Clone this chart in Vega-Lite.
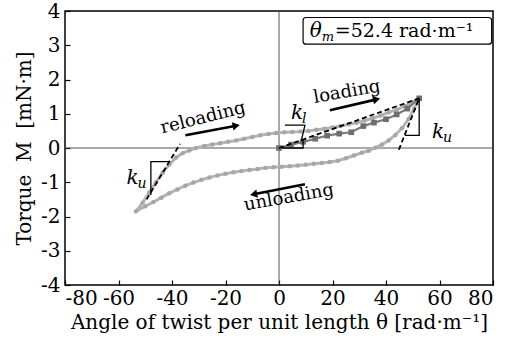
{
  "$schema": "https://vega.github.io/schema/vega-lite/v6.json",
  "width": 428,
  "height": 274,
  "autosize": {"type": "none"},
  "padding": {"left": 65, "top": 11, "right": 13, "bottom": 52},
  "background": "white",
  "view": {"stroke": "black", "strokeWidth": 1.5},
  "config": {
    "font": "DejaVu Serif",
    "axis": {
      "grid": false, "domain": false, "tickColor": "black", "tickSize": -5, "tickWidth": 1.2,
      "labelFont": "DejaVu Serif", "labelFontSize": 20, "labelColor": "black", "labelOverlap": false,
      "titleFont": "DejaVu Serif", "titleFontSize": 20, "titleFontWeight": "normal", "titleColor": "black",
      "labelExpr": "replace(datum.label, '−', '-')"
    }
  },
  "datasets": {
    "loop": [
      {"x": 52.4, "y": 1.45, "o": 1}, {"x": 50.5, "y": 1.15, "o": 2}, {"x": 48.5, "y": 0.85, "o": 3},
      {"x": 46, "y": 0.58, "o": 4}, {"x": 43.5, "y": 0.38, "o": 5}, {"x": 41, "y": 0.22, "o": 6},
      {"x": 38.5, "y": 0.1, "o": 7}, {"x": 36, "y": 0.01, "o": 8}, {"x": 33.5, "y": -0.08, "o": 9},
      {"x": 31, "y": -0.14, "o": 10}, {"x": 28, "y": -0.22, "o": 11}, {"x": 25, "y": -0.3, "o": 12},
      {"x": 22, "y": -0.37, "o": 13}, {"x": 19, "y": -0.41, "o": 14}, {"x": 16, "y": -0.44, "o": 15},
      {"x": 13, "y": -0.46, "o": 16}, {"x": 10, "y": -0.49, "o": 17}, {"x": 7, "y": -0.51, "o": 18},
      {"x": 4, "y": -0.53, "o": 19}, {"x": 1, "y": -0.55, "o": 20}, {"x": -2, "y": -0.56, "o": 21},
      {"x": -5, "y": -0.58, "o": 22}, {"x": -8, "y": -0.61, "o": 23}, {"x": -11, "y": -0.64, "o": 24},
      {"x": -14, "y": -0.67, "o": 25}, {"x": -17, "y": -0.71, "o": 26}, {"x": -20, "y": -0.75, "o": 27},
      {"x": -23, "y": -0.8, "o": 28}, {"x": -26, "y": -0.86, "o": 29}, {"x": -29, "y": -0.93, "o": 30},
      {"x": -32, "y": -1.01, "o": 31}, {"x": -35, "y": -1.1, "o": 32}, {"x": -38, "y": -1.21, "o": 33},
      {"x": -41, "y": -1.32, "o": 34}, {"x": -44, "y": -1.45, "o": 35}, {"x": -47, "y": -1.58, "o": 36},
      {"x": -50, "y": -1.7, "o": 37}, {"x": -53.5, "y": -1.85, "o": 38},
      {"x": -51, "y": -1.6, "o": 39}, {"x": -48.5, "y": -1.3, "o": 40}, {"x": -46, "y": -1.0, "o": 41},
      {"x": -43.5, "y": -0.72, "o": 42}, {"x": -41, "y": -0.48, "o": 43}, {"x": -38.5, "y": -0.28, "o": 44},
      {"x": -36, "y": -0.15, "o": 45}, {"x": -33.5, "y": -0.07, "o": 46}, {"x": -31, "y": 0.0, "o": 47},
      {"x": -28, "y": 0.06, "o": 48}, {"x": -25, "y": 0.1, "o": 49}, {"x": -22, "y": 0.14, "o": 50},
      {"x": -19, "y": 0.18, "o": 51}, {"x": -16, "y": 0.22, "o": 52}, {"x": -13, "y": 0.27, "o": 53},
      {"x": -10, "y": 0.32, "o": 54}, {"x": -7, "y": 0.37, "o": 55}, {"x": -4, "y": 0.41, "o": 56},
      {"x": -1, "y": 0.44, "o": 57}, {"x": 2, "y": 0.46, "o": 58}, {"x": 5, "y": 0.47, "o": 59},
      {"x": 8, "y": 0.48, "o": 60}, {"x": 11, "y": 0.5, "o": 61}, {"x": 14, "y": 0.53, "o": 62},
      {"x": 17, "y": 0.56, "o": 63}, {"x": 20, "y": 0.6, "o": 64}, {"x": 23, "y": 0.64, "o": 65},
      {"x": 26, "y": 0.69, "o": 66}, {"x": 29, "y": 0.74, "o": 67}, {"x": 32, "y": 0.8, "o": 68},
      {"x": 35, "y": 0.87, "o": 69}, {"x": 38, "y": 0.95, "o": 70}, {"x": 41, "y": 1.04, "o": 71},
      {"x": 44, "y": 1.12, "o": 72}, {"x": 47, "y": 1.22, "o": 73}, {"x": 50, "y": 1.34, "o": 74},
      {"x": 52.4, "y": 1.45, "o": 75}
    ],
    "loading": [
      {"x": 0, "y": 0}, {"x": 4.5, "y": 0.1}, {"x": 9, "y": 0.18}, {"x": 13.5, "y": 0.27},
      {"x": 18, "y": 0.36}, {"x": 22.5, "y": 0.42}, {"x": 27, "y": 0.46}, {"x": 31.5, "y": 0.64},
      {"x": 35.5, "y": 0.74}, {"x": 40, "y": 0.84}, {"x": 44, "y": 0.98}, {"x": 48, "y": 1.15},
      {"x": 52.4, "y": 1.45}
    ],
    "dashed": [
      {"id": "kl", "x": 0, "y": 0}, {"id": "kl", "x": 52.4, "y": 1.45},
      {"id": "kur", "x": 52.4, "y": 1.45}, {"id": "kur", "x": 44.8, "y": -0.05},
      {"id": "kul", "x": -49.5, "y": -1.5}, {"id": "kul", "x": -37, "y": 0.12}
    ],
    "solid": [
      {"id": "tl", "o": 1, "x": 1, "y": 0}, {"id": "tl", "o": 2, "x": 9, "y": 0}, {"id": "tl", "o": 3, "x": 9, "y": 0.25},
      {"id": "ll", "o": 1, "x": 2.2, "y": 0.67}, {"id": "ll", "o": 2, "x": 9.7, "y": 0.67}, {"id": "ll", "o": 3, "x": 8.3, "y": 0.2},
      {"id": "tr", "o": 1, "x": 52.4, "y": 1.45}, {"id": "tr", "o": 2, "x": 52.4, "y": 0.37}, {"id": "tr", "o": 3, "x": 47, "y": 0.37},
      {"id": "tle", "o": 1, "x": -47.9, "y": -1.37}, {"id": "tle", "o": 2, "x": -47.9, "y": -0.4}, {"id": "tle", "o": 3, "x": -41, "y": -0.4}
    ],
    "arrows": [
      {"id": "reload", "o": 1, "x": -35, "y": 0.37}, {"id": "reload", "o": 2, "x": -16, "y": 0.65},
      {"id": "load", "o": 1, "x": 19, "y": 1.1}, {"id": "load", "o": 2, "x": 36.5, "y": 1.42},
      {"id": "unload", "o": 1, "x": 9.7, "y": -1.06}, {"id": "unload", "o": 2, "x": -9.5, "y": -1.35}
    ],
    "heads": [
      {"id": "reload", "x": -16, "y": 0.65},
      {"id": "load", "x": 36.5, "y": 1.42},
      {"id": "unload", "x": -9.5, "y": -1.35}
    ],
    "words": [
      {"id": "reload", "t": "reloading", "x": -28.4, "y": 0.87},
      {"id": "load", "t": "loading", "x": 25.4, "y": 1.63},
      {"id": "unload", "t": "unloading", "x": 3.7, "y": -1.45}
    ],
    "ks": [
      {"k": "k", "s": "l", "x": 4.5, "y": 0.85},
      {"k": "k", "s": "u", "x": 57.2, "y": 0.3},
      {"k": "k", "s": "u", "x": -57, "y": -1.05}
    ],
    "box": [{"x": 9, "x2": 79.5, "y": 3.81, "y2": 3.03}],
    "boxtext": [{"x": 11.5, "y": 3.42}]
  },
  "encoding": {
    "x": {"field": "x", "type": "quantitative", "scale": {"domain": [-80, 80]},
      "axis": {"values": [-80, -60, -40, -20, 0, 20, 40, 60, 80], "tickCount": 30, "format": "d", "labelOverlap": false, "labelPadding": 8, "title": "Angle of twist per unit length  θ [rad·m⁻¹]", "titlePadding": 4}},
    "y": {"field": "y", "type": "quantitative", "scale": {"domain": [-4, 4]},
      "axis": {"values": [-4, -3, -2, -1, 0, 1, 2, 3, 4], "tickCount": 30, "format": "d", "labelOverlap": false, "labelPadding": 10, "title": "Torque\u00a0\u00a0M\u00a0\u00a0[mN·m]", "titlePadding": 6}}
  },
  "layer": [
    {"data": {"values": [{"x": 0}]}, "mark": {"type": "rule", "color": "#444", "strokeWidth": 0.9},
      "encoding": {"y": null}},
    {"data": {"values": [{"y": 0}]}, "mark": {"type": "rule", "color": "#444", "strokeWidth": 0.9},
      "encoding": {"x": null}},
    {
      "data": {"name": "loop"},
      "mark": {"type": "line", "color": "#b4b4b4", "strokeWidth": 3, "point": {"filled": true, "size": 20, "color": "#a6a6a6"}},
      "encoding": {"order": {"field": "o"}}
    },
    {
      "data": {"name": "loading"},
      "mark": {"type": "line", "color": "#7a7a7a", "strokeWidth": 2.2, "point": {"filled": true, "shape": "square", "size": 32, "color": "#6e6e6e"}}
    },
    {
      "data": {"name": "dashed"},
      "mark": {"type": "line", "color": "black", "strokeWidth": 1.8, "strokeDash": [5, 3]},
      "encoding": {"detail": {"field": "id"}}
    },
    {
      "data": {"name": "solid"},
      "mark": {"type": "line", "color": "black", "strokeWidth": 1.3},
      "encoding": {"detail": {"field": "id"}, "order": {"field": "o"}}
    },
    {
      "data": {"name": "arrows"},
      "mark": {"type": "line", "color": "black", "strokeWidth": 2.6},
      "encoding": {"detail": {"field": "id"}, "order": {"field": "o"}}
    },
    {
      "data": {"name": "heads"}, "transform": [{"filter": "datum.id === 'reload'"}],
      "mark": {"type": "point", "shape": "triangle-right", "filled": true, "color": "black", "size": 70, "opacity": 1, "angle": -11}
    },
    {
      "data": {"name": "heads"}, "transform": [{"filter": "datum.id === 'load'"}],
      "mark": {"type": "point", "shape": "triangle-right", "filled": true, "color": "black", "size": 70, "opacity": 1, "angle": -13}
    },
    {
      "data": {"name": "heads"}, "transform": [{"filter": "datum.id === 'unload'"}],
      "mark": {"type": "point", "shape": "triangle-right", "filled": true, "color": "black", "size": 70, "opacity": 1, "angle": 169}
    },
    {
      "data": {"name": "words"}, "transform": [{"filter": "datum.id === 'reload'"}],
      "mark": {"type": "text", "fontSize": 18, "angle": -14, "color": "black"},
      "encoding": {"text": {"field": "t"}}
    },
    {
      "data": {"name": "words"}, "transform": [{"filter": "datum.id === 'load'"}],
      "mark": {"type": "text", "fontSize": 18, "angle": -10, "color": "black"},
      "encoding": {"text": {"field": "t"}}
    },
    {
      "data": {"name": "words"}, "transform": [{"filter": "datum.id === 'unload'"}],
      "mark": {"type": "text", "fontSize": 18, "angle": -10, "color": "black"},
      "encoding": {"text": {"field": "t"}}
    },
    {
      "data": {"name": "ks"},
      "mark": {"type": "text", "fontSize": 20, "fontStyle": "italic", "align": "left", "baseline": "alphabetic", "color": "black"},
      "encoding": {"text": {"field": "k"}}
    },
    {
      "data": {"name": "ks"},
      "mark": {"type": "text", "fontSize": 14, "fontStyle": "italic", "align": "left", "baseline": "alphabetic", "dx": 11, "dy": 4, "color": "black"},
      "encoding": {"text": {"field": "s"}}
    },
    {
      "data": {"name": "box"},
      "mark": {"type": "rect", "fill": "white", "stroke": "black", "strokeWidth": 1.2, "cornerRadius": 3},
      "encoding": {"x2": {"field": "x2"}, "y2": {"field": "y2"}}
    },
    {
      "data": {"name": "boxtext"},
      "mark": {"type": "text", "fontSize": 20, "fontStyle": "italic", "align": "left", "baseline": "middle", "color": "black"},
      "encoding": {"text": {"value": "θ"}}
    },
    {
      "data": {"name": "boxtext"},
      "mark": {"type": "text", "fontSize": 13, "fontStyle": "italic", "align": "left", "baseline": "middle", "dx": 12, "dy": 6, "color": "black"},
      "encoding": {"text": {"value": "m"}}
    },
    {
      "data": {"name": "boxtext"},
      "mark": {"type": "text", "fontSize": 19, "align": "left", "baseline": "middle", "dx": 25, "color": "black"},
      "encoding": {"text": {"value": "=52.4 rad·m⁻¹"}}
    }
  ]
}
